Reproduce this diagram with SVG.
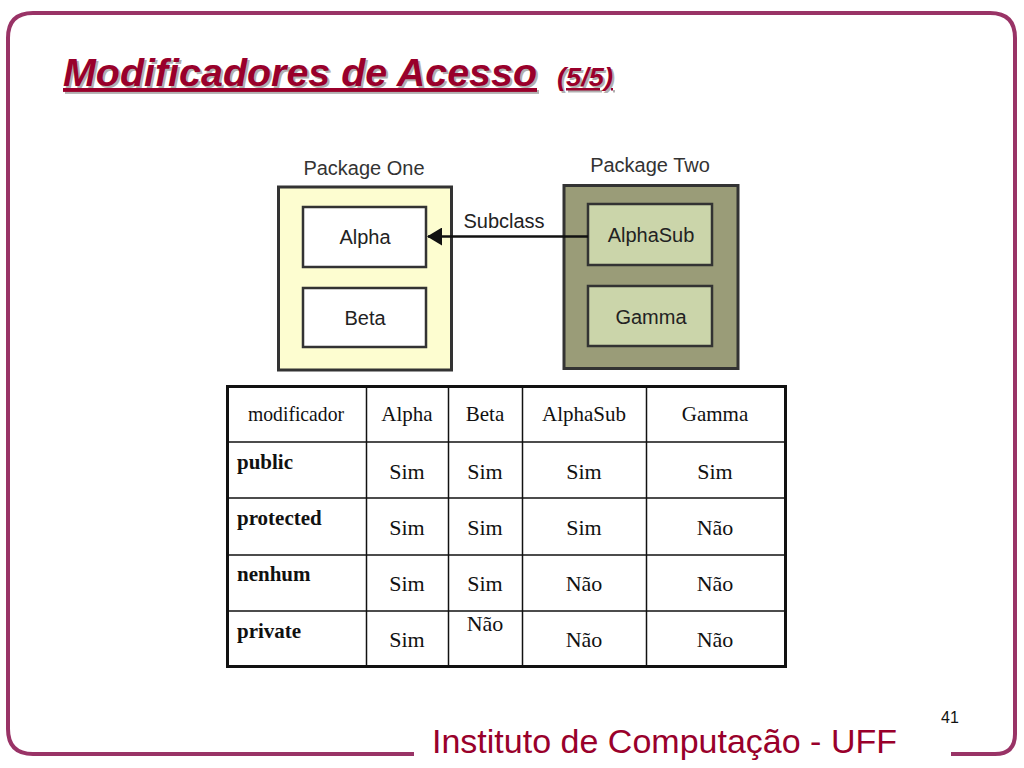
<svg xmlns="http://www.w3.org/2000/svg" width="1024" height="768" viewBox="0 0 1024 768">
<style>
.frame{fill:none;stroke:#993366;stroke-width:4;stroke-linecap:butt}
.title{font-family:"Liberation Sans",Arial,sans-serif;font-weight:bold;font-style:italic;fill:#99002b;text-decoration:underline}
.shadow{fill:#b0b0b0}
.pkglbl{font-family:"Liberation Sans",Arial,sans-serif;font-size:20px;fill:#333;text-anchor:middle}
.cls{font-family:"Liberation Sans",Arial,sans-serif;font-size:20px;fill:#222;text-anchor:middle}
.pkg{stroke:#333;stroke-width:3}
.box{stroke:#333;stroke-width:2.5}
.grid{stroke:#111;stroke-width:1.5}
.outer{fill:none;stroke:#111;stroke-width:3}
.th{font-family:"Liberation Serif","Times New Roman",serif;font-size:21px;fill:#111;text-anchor:middle}
.td{font-family:"Liberation Serif","Times New Roman",serif;font-size:22px;fill:#111;text-anchor:middle}
.rl{font-family:"Liberation Serif","Times New Roman",serif;font-size:21px;font-weight:bold;fill:#111}
.foot{font-family:"Liberation Sans",Arial,sans-serif;font-size:34px;fill:#99002b}
.num{font-family:"Liberation Sans",Arial,sans-serif;font-size:16px;fill:#111}
</style>
<defs>
<marker id="tri" markerWidth="15" markerHeight="18" refX="14" refY="9" orient="auto" markerUnits="userSpaceOnUse" viewBox="0 0 15 18">
<path d="M0,0 L15,9 L0,18 Z" fill="#111"/>
</marker>
</defs>
<rect width="1024" height="768" fill="#fff"/>
<!-- frame -->
<path class="frame" d="M414,754 L33,754 Q8,754 8,729 L8,38 Q8,13 33,13 L990,13 Q1015,13 1015,38 L1015,734 Q1015,754 995,754 L951,754"/>
<!-- title -->
<g id="title">
<text class="title shadow" x="65" y="88" font-size="39" textLength="474" lengthAdjust="spacingAndGlyphs">Modificadores de Acesso</text>
<text class="title shadow" x="559" y="88" font-size="25" textLength="56" lengthAdjust="spacingAndGlyphs">(5/5)</text>
<text class="title" x="63" y="86" font-size="39" textLength="474" lengthAdjust="spacingAndGlyphs">Modificadores de Acesso</text>
<text class="title" x="557" y="86" font-size="25" textLength="56" lengthAdjust="spacingAndGlyphs">(5/5)</text>
</g>
<!-- package one -->
<g id="package-one">
<text class="pkglbl" x="364" y="175">Package One</text>
<rect class="pkg" x="278.5" y="187" width="173" height="183" fill="#fdfdd0"/>
</g>
<g id="alpha">
<rect class="box" x="303" y="207" width="123" height="60" fill="#fff"/>
<text class="cls" x="365" y="244">Alpha</text>
</g>
<g id="beta">
<rect class="box" x="303" y="288" width="123" height="59" fill="#fff"/>
<text class="cls" x="365" y="325">Beta</text>
</g>
<!-- package two -->
<g id="package-two">
<text class="pkglbl" x="650" y="172">Package Two</text>
<rect class="pkg" x="564" y="185.5" width="174" height="183" fill="#9a9c78"/>
</g>
<g id="alphasub">
<rect class="box" x="588" y="204" width="124" height="61" fill="#cbd5aa"/>
<text class="cls" x="651" y="242">AlphaSub</text>
</g>
<g id="gamma">
<rect class="box" x="588" y="286" width="124" height="60" fill="#cbd5aa"/>
<text class="cls" x="651" y="324">Gamma</text>
</g>
<!-- connectors -->
<g id="connectors">
<line x1="588" y1="236.5" x2="428" y2="236.5" stroke="#111" stroke-width="2.5" marker-end="url(#tri)"/>
<text class="cls" x="504" y="228">Subclass</text>
</g>
<!-- table -->
<g id="table">
<line class="grid" x1="366.5" y1="386" x2="366.5" y2="667"/>
<line class="grid" x1="448.5" y1="386" x2="448.5" y2="667"/>
<line class="grid" x1="522.5" y1="386" x2="522.5" y2="667"/>
<line class="grid" x1="646.5" y1="386" x2="646.5" y2="667"/>
<line class="grid" x1="227" y1="442" x2="786" y2="442"/>
<line class="grid" x1="227" y1="498" x2="786" y2="498"/>
<line class="grid" x1="227" y1="555" x2="786" y2="555"/>
<line class="grid" x1="227" y1="611" x2="786" y2="611"/>
<rect class="outer" x="227.5" y="386.5" width="558" height="280"/>
<text class="th" x="296" y="421" font-size="17" textLength="96" lengthAdjust="spacingAndGlyphs">modificador</text>
<text class="th" x="407" y="421">Alpha</text>
<text class="th" x="485" y="421">Beta</text>
<text class="th" x="584" y="421">AlphaSub</text>
<text class="th" x="715" y="421">Gamma</text>
<text class="rl" x="237" y="469">public</text>
<text class="rl" x="237" y="525">protected</text>
<text class="rl" x="237" y="581">nenhum</text>
<text class="rl" x="237" y="638">private</text>
<text class="td" x="407" y="479">Sim</text>
<text class="td" x="485" y="479">Sim</text>
<text class="td" x="584" y="479">Sim</text>
<text class="td" x="715" y="479">Sim</text>
<text class="td" x="407" y="535">Sim</text>
<text class="td" x="485" y="535">Sim</text>
<text class="td" x="584" y="535">Sim</text>
<text class="td" x="715" y="535">Não</text>
<text class="td" x="407" y="591">Sim</text>
<text class="td" x="485" y="591">Sim</text>
<text class="td" x="584" y="591">Não</text>
<text class="td" x="715" y="591">Não</text>
<text class="td" x="407" y="647">Sim</text>
<text class="td" x="485" y="631">Não</text>
<text class="td" x="584" y="647">Não</text>
<text class="td" x="715" y="647">Não</text>
</g>
<!-- footer -->
<text class="foot" x="432" y="753" textLength="465" lengthAdjust="spacingAndGlyphs">Instituto de Computação - UFF</text>
<text class="num" x="941" y="723">41</text>
</svg>
